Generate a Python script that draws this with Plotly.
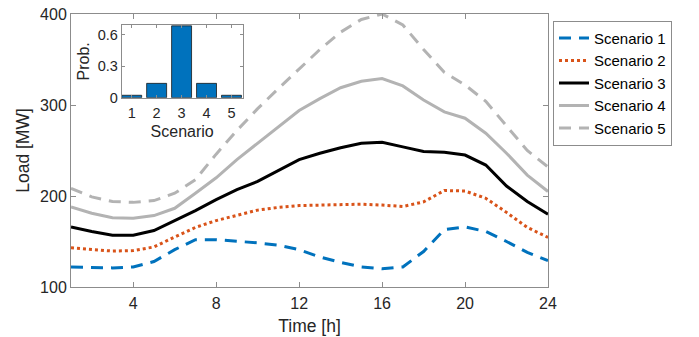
import plotly.graph_objects as go

hours = list(range(1, 25))
s1 = [122, 121.5, 121, 122, 128, 141, 152, 152, 150.5, 148.5, 146, 141, 133, 127, 122, 120, 122, 139, 163, 166, 161, 150, 138, 129]
s2 = [143, 141, 139.5, 140, 144, 155, 165.5, 173, 179, 184.5, 187.5, 189.5, 190, 190.5, 191, 190, 188.5, 193.5, 206, 205.5, 197.5, 182, 165.5, 154.5]
s3 = [166, 161, 157, 157, 162, 173, 184, 196, 207, 216, 228, 240, 247, 253, 258, 259, 254, 249, 248, 245, 234, 211, 194, 180]
s4 = [188, 181, 176, 175.5, 178.5, 186.5, 203, 220, 240, 258, 276, 294, 307, 319, 326, 329, 321, 305.5, 292.5, 285.5, 269, 247, 223, 205]
s5 = [208.5, 199, 194, 193, 195, 203, 218, 246, 272, 296, 318, 340, 361, 380, 394, 400, 388, 361, 336, 322, 304, 277, 250, 232]

scenarios = [1, 2, 3, 4, 5]
probs = [0.023, 0.136, 0.682, 0.136, 0.023]

names = ["Scenario 1", "Scenario 2", "Scenario 3", "Scenario 4", "Scenario 5"]
series = [s1, s2, s3, s4, s5]
colors = ["#0072BD", "#D95319", "#000000", "#B3B3B3", "#B3B3B3"]
dashes = ["12px,8px", "3px,3px", "solid", "solid", "12px,8px"]

FONT = "Liberation Sans, Arial, Helvetica, sans-serif"
AX = "#8c8c8c"
TXT = "#262626"

fig = go.Figure()
for n, s, c, d in zip(names, series, colors, dashes):
    fig.add_trace(go.Scatter(x=hours, y=s, mode="lines", name=n,
                             line=dict(color=c, width=3, dash=d)))

fig.add_trace(go.Bar(x=scenarios, y=probs, width=0.8, xaxis="x2", yaxis="y2",
                     marker=dict(color="#0072BD", line=dict(color="#1a1a1a", width=0.8)),
                     showlegend=False))

W, H = 699, 337
L, R, T, B = 71, 548, 14, 287
pw, ph = R - L, B - T

def px(x):
    return (x - L) / pw

def py(y):
    return (B - y) / ph

common = dict(showline=True, linecolor=AX, linewidth=1, mirror="ticks", ticks="inside",
              tickcolor=AX, showgrid=False, zeroline=False,
              tickfont=dict(family=FONT, size=16, color=TXT))
small = {**common, "tickfont": dict(family=FONT, size=14.5, color=TXT)}

fig.update_layout(
    width=W, height=H,
    margin=dict(l=L, r=W - R, t=T, b=H - B, autoexpand=False),
    paper_bgcolor="white", plot_bgcolor="white",
    font=dict(family=FONT, size=16, color=TXT),
    xaxis=dict(range=[1, 24], tickvals=[4, 8, 12, 16, 20, 24], ticklen=5, ticklabelstandoff=2, **common,
               title=dict(text="Time [h]", font=dict(family=FONT, size=17.5, color=TXT), standoff=8)),
    yaxis=dict(range=[100, 400], tickvals=[100, 200, 300, 400], ticklen=5, **common,
               title=dict(text="Load [MW]", font=dict(family=FONT, size=17.5, color=TXT), standoff=5)),
    xaxis2=dict(domain=[px(121.7), px(242.7)], anchor="y2", range=[0.6, 5.45],
                tickvals=[1, 2, 3, 4, 5], ticklen=3, ticklabelstandoff=2, **small,
                title=dict(text="Scenario", font=dict(family=FONT, size=16, color=TXT), standoff=5)),
    yaxis2=dict(domain=[py(97.7), py(25)], anchor="x2", range=[0, 0.69],
                tickvals=[0, 0.3, 0.6], ticktext=["0", "0.3", "0.6"], ticklen=3, **small,
                title=dict(text="Prob.", font=dict(family=FONT, size=16, color=TXT), standoff=4)),
    legend=dict(x=px(553), y=py(20.7), xanchor="left", yanchor="top",
                bordercolor=AX, borderwidth=1, bgcolor="white",
                font=dict(family=FONT, size=15, color="#000000"),
                tracegroupgap=0, itemwidth=30),
    bargap=0.2,
    showlegend=True,
)

fig.write_html("out.html")
